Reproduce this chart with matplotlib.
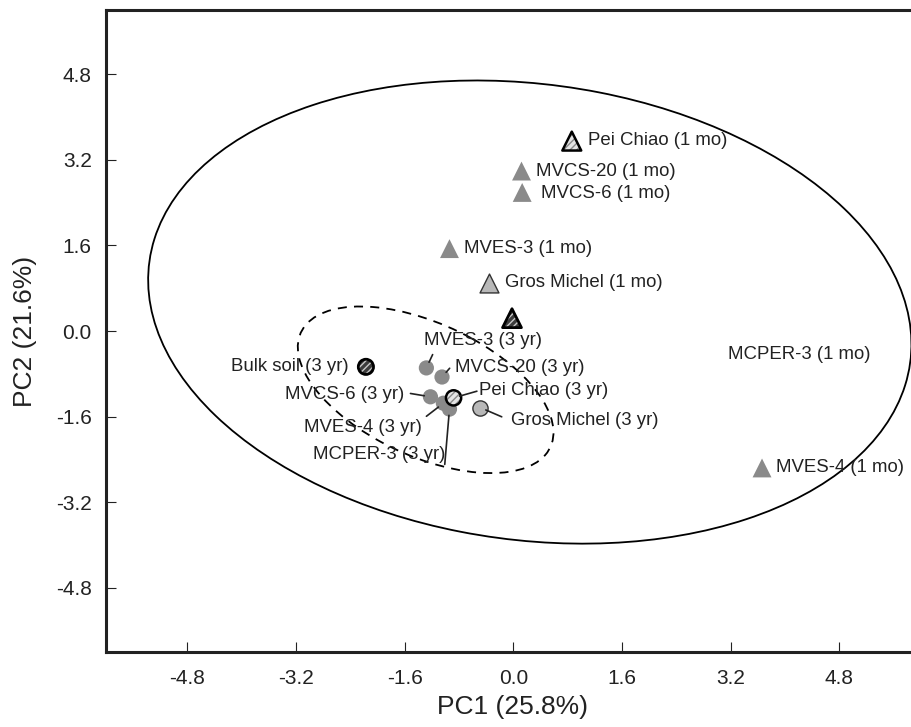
import matplotlib
matplotlib.use("Agg")
import matplotlib.pyplot as plt
from matplotlib.patches import Ellipse

plt.rcParams["font.family"] = ["Liberation Sans", "DejaVu Sans"]
plt.rcParams["hatch.linewidth"] = 1.0

# ---- 1-month samples (triangles) ----
mo_names = ["Pei Chiao", "MVCS-20", "MVCS-6", "MVES-3", "Gros Michel",
            "Bulk soil", "MVES-4", "MCPER-3"]
mo_pc1 = [0.86, 0.12, 0.13, -0.94, -0.36, -0.02, 3.66, 6.40]
mo_pc2 = [3.55, 2.99, 2.59, 1.54, 0.90, 0.24, -2.56, -0.43]

# ---- 3-year samples (circles) ----
yr_names = ["Bulk soil", "MVES-3", "MVCS-20", "MVCS-6", "MVES-4",
            "MCPER-3", "Gros Michel", "Pei Chiao"]
yr_pc1 = [-2.17, -1.28, -1.05, -1.22, -1.03, -0.94, -0.49, -0.88]
yr_pc2 = [-0.67, -0.69, -0.86, -1.23, -1.35, -1.46, -1.43, -1.25]

# ---- group ellipses: centre (pc1, pc2), width, height, angle ----
mo_ellipse_center = (0.242, 0.354)
mo_ellipse_size = (11.382, 8.462)
mo_ellipse_angle = 166.08
yr_ellipse_center = (-1.291, -1.099)
yr_ellipse_size = (4.282, 2.351)
yr_ellipse_angle = 145.19

ticks = [-4.8, -3.2, -1.6, 0.0, 1.6, 3.2, 4.8]

TEXT = "#222222"
GRAY = "#8a8a8a"
LIGHT = "#b8b8b8"

# marker styles keyed by sample name: (fill, hatch colour, hatch, edge, edge width)
styles = {
    "Bulk soil": ("#3c3c3c", "#c8c8c8", "/////", "black", 2.0),
    "Pei Chiao": ("#e4e4e4", "#8a8a8a", "/////", "black", 1.8),
    "Gros Michel": (LIGHT, None, None, "#333333", 1.0),
}

# label placement (points): text offset, alignment, leader end offset or None
mo_labels = {
    "Pei Chiao": ((11.5, 0.7), "left", None),
    "MVCS-20": ((10.1, 0.0), "left", None),
    "MVCS-6": ((13.7, -0.9), "left", None),
    "MVES-3": ((10.1, 0.0), "left", None),
    "Gros Michel": ((11.5, 0.0), "left", None),
    "MVES-4": ((10.3, 0.0), "left", None),
    "MCPER-3": ((-56.0, 0.0), "right", None),
}
yr_labels = {
    "Bulk soil": ((-12.5, 0.0), "right", None),
    "MVES-3": ((-1.4, 19.7), "left", (4.5, 9.6)),
    "MVCS-20": ((9.1, 7.2), "left", (5.5, 6.3)),
    "MVCS-6": ((-19.2, 1.4), "right", (-14.4, 2.4)),
    "MVES-4": ((-15.3, -17.3), "right", (-12.2, -9.4)),
    "MCPER-3": ((-2.9, -32.6), "right", (-3.4, -39.8)),
    "Pei Chiao": ((18.0, 5.5), "left", (16.8, 4.8)),
    "Gros Michel": ((22.3, -9.6), "left", (15.6, -6.7)),
}


def draw_points(ax, xs, ys, names, marker, size):
    for x, y, n in zip(xs, ys, names):
        fill, hcol, hatch, ec, lw = styles.get(n, (GRAY, None, None, "none", 0))
        if hatch:
            # hatched fill first, then the outline on top
            ax.scatter([x], [y], s=size, marker=marker, facecolor=fill,
                       edgecolor=hcol, linewidths=0, hatch=hatch, zorder=3)
            ax.scatter([x], [y], s=size, marker=marker, facecolor="none",
                       edgecolor=ec, linewidths=lw, zorder=4)
        else:
            ax.scatter([x], [y], s=size, marker=marker, facecolor=fill,
                       edgecolor=ec, linewidths=lw, zorder=3)


def draw_labels(ax, xs, ys, names, labels, tag):
    for x, y, n in zip(xs, ys, names):
        if n not in labels:
            continue
        off, ha, lead = labels[n]
        ax.annotate(f"{n} ({tag})", (x, y), xytext=off, textcoords="offset points",
                    ha=ha, va="center", fontsize=13.4, color=TEXT,
                    annotation_clip=False, zorder=5)
        if lead is not None:
            ax.annotate("", (x, y), xytext=lead, textcoords="offset points",
                        arrowprops=dict(arrowstyle="-", color=TEXT, lw=1.2,
                                        shrinkA=0, shrinkB=4.5), zorder=5)


fig = plt.figure(figsize=(9.11, 7.27), dpi=100)
ax = fig.add_axes([0.116, 0.1032, 0.895, 0.883])
ax.set_xlim(-6, 6)
ax.set_ylim(-6, 6)

ax.add_patch(Ellipse(mo_ellipse_center, *mo_ellipse_size, angle=mo_ellipse_angle,
                     fill=False, ec="black", lw=1.3, zorder=2))
ax.add_patch(Ellipse(yr_ellipse_center, *yr_ellipse_size, angle=yr_ellipse_angle,
                     fill=False, ec="black", lw=1.3, ls=(0, (5, 4)), zorder=2))

draw_points(ax, yr_pc1, yr_pc2, yr_names, "o", 120)
draw_points(ax, mo_pc1, mo_pc2, mo_names, "^", 185)
draw_labels(ax, mo_pc1, mo_pc2, mo_names, mo_labels, "1 mo")
draw_labels(ax, yr_pc1, yr_pc2, yr_names, yr_labels, "3 yr")

ax.set_xticks(ticks)
ax.set_yticks(ticks)
ax.set_xticklabels([f"{t:.1f}" for t in ticks])
ax.set_yticklabels([f"{t:.1f}" for t in ticks])
ax.tick_params(direction="in", length=7, width=0.8, labelsize=15, color=TEXT,
               labelcolor=TEXT)
ax.tick_params(axis="x", pad=12.5)
ax.tick_params(axis="y", pad=10)
for side in ["left", "bottom", "top", "right"]:
    ax.spines[side].set_linewidth(2.2)
    ax.spines[side].set_color(TEXT)

ax.set_xlabel("PC1 (25.8%)", fontsize=19, color=TEXT)
ax.set_ylabel("PC2 (21.6%)", fontsize=19, color=TEXT)
ax.xaxis.set_label_coords(0.4985, -0.067)
ax.yaxis.set_label_coords(-0.0839, 0.5)

fig.savefig("out.png", dpi=100)
